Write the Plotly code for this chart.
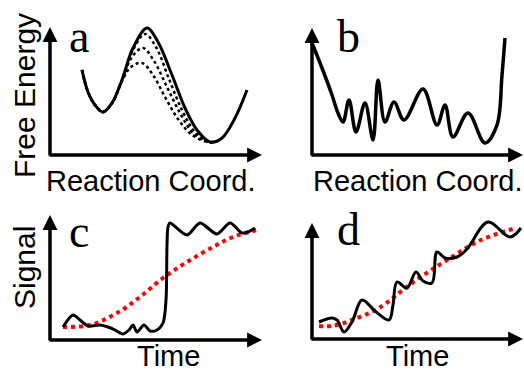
import plotly.graph_objects as go

W_PX, H_PX = 524, 373

# ---------------- data (arbitrary units, origin at axis corner) ----------------
# panel a: free-energy profiles
a_solid_x = [32, 38, 45, 53, 62, 72, 83, 97, 108, 122, 135, 147, 160, 172, 185, 197]
a_solid_y = [85, 63, 50, 43, 52, 75, 107, 127, 113, 80, 47, 25, 13, 17, 37, 65]
a_dot1_x = [32, 38, 45, 53, 62, 72, 83, 95, 106, 119, 132, 145, 160, 167]
a_dot1_y = [85, 63, 50, 43, 52, 75, 105, 121, 108, 76, 45, 23, 13, 14]
a_dot2_x = [32, 38, 45, 53, 62, 72, 82, 93, 104, 117, 130, 144, 160, 167]
a_dot2_y = [85, 63, 50, 43, 52, 75, 98, 107, 94, 68, 42, 21, 13, 14]
a_dot3_x = [32, 38, 45, 53, 62, 72, 81, 92, 103, 115, 128, 142, 158, 167]
a_dot3_y = [85, 63, 50, 43, 52, 74, 88, 92, 80, 58, 36, 20, 13, 14]

# panel b: rugged landscape
b_x = [0, 10, 20, 26, 31, 37, 44, 53, 61, 66, 73, 82, 92, 111, 125, 133, 141, 156, 173, 185, 190, 193]
b_y = [112, 87, 60, 42, 33, 55, 23, 52, 15, 75, 33, 53, 35, 66, 30, 50, 18, 42, 12, 30, 80, 117]

# panel c: single-molecule signal (black) and ensemble average (red)
c_x = [13, 23, 30, 38, 50, 58, 65, 73, 79, 83, 87, 94, 100, 107, 113, 116, 117, 118, 120, 137, 150, 167, 180, 192, 198, 205]
c_y = [13, 25, 20, 14, 15, 13, 10, 6, 10, 15, 8, 15, 9, 10, 17, 40, 95, 113, 117, 105, 117, 106, 117, 107, 108, 112]
c_avg_x = [13, 40, 67, 90, 113, 137, 163, 183, 207]
c_avg_y = [13, 15, 27, 43, 62, 78, 93, 103, 110]

# panel d: stepwise signal (black) and average (red)
d_x = [7, 20, 25, 32, 40, 50, 63, 77, 81, 85, 95, 104, 111, 120, 125, 133, 145, 155, 176, 198, 209]
d_y = [17, 21, 19, 7, 17, 39, 28, 19, 34, 57, 51, 67, 58, 56, 87, 81, 82, 90, 117, 102, 111]
d_avg_x = [7, 20, 40, 67, 100, 135, 169, 204]
d_avg_y = [13, 13, 19, 31, 56, 79, 99, 111]

panel_letters = ["a", "b", "c", "d"]
x_titles = ["Reaction Coord.", "Reaction Coord.", "Time", "Time"]
y_titles = ["Free Energy", "Signal"]

# ---------------- layout helpers ----------------
# (origin pixel x, origin pixel y, x-axis length, y-axis length)
panels = [
    (50, 155, 212, 128),
    (312, 155, 211, 127),
    (50, 340, 212, 125),
    (312, 339, 211, 116),
]
PAD = 8

fig = go.Figure()
layout = dict(
    width=W_PX, height=H_PX, margin=dict(l=0, r=0, t=0, b=0),
    paper_bgcolor="white", plot_bgcolor="rgba(0,0,0,0)", showlegend=False,
)
annotations = []

for i, (ox, oy, W, H) in enumerate(panels):
    n = "" if i == 0 else str(i + 1)
    x0, x1 = -PAD, min(W + PAD, W_PX - ox)
    y0, y1 = -PAD, H + PAD
    layout["xaxis" + n] = dict(
        domain=[(ox + x0) / W_PX, (ox + x1) / W_PX], range=[x0, x1],
        visible=False, fixedrange=True, anchor="y" + n,
    )
    layout["yaxis" + n] = dict(
        domain=[1 - (oy - y0) / H_PX, 1 - (oy - y1) / H_PX], range=[y0, y1],
        visible=False, fixedrange=True, anchor="x" + n,
    )
    xr, yr = "x" + n, "y" + n
    # axis arrows
    for (hx, hy, tx, ty) in [(W, 0, -2, 0), (0, H, 0, -2)]:
        annotations.append(dict(
            x=hx, y=hy, ax=tx, ay=ty, xref=xr, yref=yr, axref=xr, ayref=yr,
            text="", showarrow=True, arrowhead=2, arrowsize=0.85,
            arrowwidth=3.5, arrowcolor="black",
        ))

def add_line(x, y, idx, color="black", width=3, dash="solid", smoothing=1.0):
    n = "" if idx == 0 else str(idx + 1)
    fig.add_trace(go.Scatter(
        x=x, y=y, mode="lines", xaxis="x" + n, yaxis="y" + n,
        line=dict(color=color, width=width, dash=dash, shape="spline", smoothing=smoothing),
        hoverinfo="skip", cliponaxis=False,
    ))

add_line(a_dot3_x, a_dot3_y, 0, width=2.5, dash="dot")
add_line(a_dot2_x, a_dot2_y, 0, width=2.5, dash="dot")
add_line(a_dot1_x, a_dot1_y, 0, width=2.5, dash="dot")
add_line(a_solid_x, a_solid_y, 0, width=3)
add_line(b_x, b_y, 1, width=3.5)
add_line(c_avg_x, c_avg_y, 2, color="#ff0000", width=4, dash="dot")
add_line(c_x, c_y, 2, width=3, smoothing=0.8)
add_line(d_avg_x, d_avg_y, 3, color="#ff0000", width=4, dash="dot")
add_line(d_x, d_y, 3, width=3)

SANS = "Liberation Sans, Arial, sans-serif"
SERIF = "Liberation Serif, Times New Roman, serif"

# panel letters (left px, center py)
letter_pos = [(67, 37), (335, 37), (67, 231), (335, 229)]
for t, (px, py) in zip(panel_letters, letter_pos):
    annotations.append(dict(
        x=px / W_PX, y=1 - py / H_PX, xref="paper", yref="paper", text=t,
        showarrow=False, xanchor="left", yanchor="middle",
        font=dict(family=SERIF, size=46, color="black"),
    ))

# x titles (center px, center py) for top row
xt_pos = [(151, 181), (418, 181)]
for t, (px, py) in zip(x_titles[:2], xt_pos):
    annotations.append(dict(
        x=px / W_PX, y=1 - py / H_PX, xref="paper", yref="paper", text=t,
        showarrow=False, xanchor="center", yanchor="middle",
        font=dict(family=SANS, size=29, color="black"),
    ))
# bottom row titles sit on the bottom edge of the figure
for t, px in zip(x_titles[2:], [168, 417]):
    annotations.append(dict(
        x=px / W_PX, y=0, xref="paper", yref="paper", text=t,
        showarrow=False, xanchor="center", yanchor="bottom", borderpad=0,
        font=dict(family=SANS, size=29, color="black"),
    ))

# y titles (rotated)
yt_pos = [(25, 96), (24, 268)]
for t, (px, py) in zip(y_titles, yt_pos):
    annotations.append(dict(
        x=px / W_PX, y=1 - py / H_PX, xref="paper", yref="paper", text=t,
        showarrow=False, xanchor="center", yanchor="middle", textangle=-90,
        font=dict(family=SANS, size=30, color="black"),
    ))

layout["annotations"] = annotations
fig.update_layout(**layout)
fig.write_html("out.html")
